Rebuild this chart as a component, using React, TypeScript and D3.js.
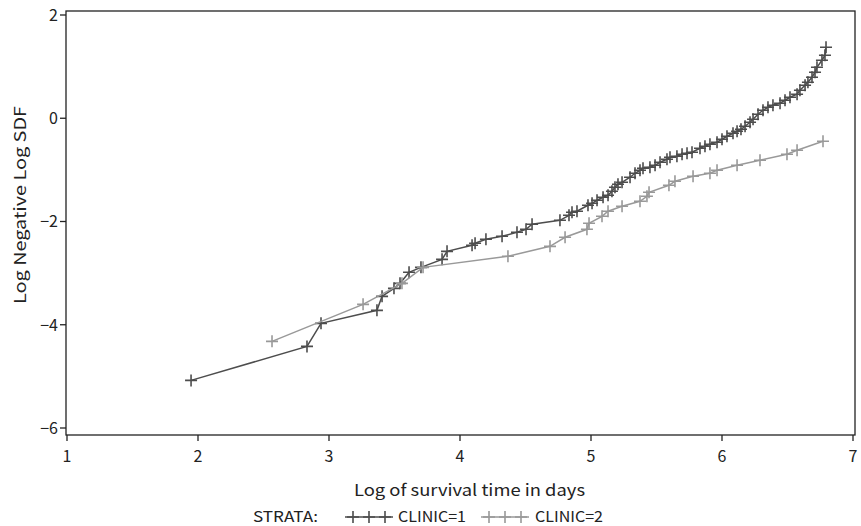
import React from 'react';
import * as d3 from 'd3';

const clinic1X = [1.947, 2.832, 2.939, 3.366, 3.405, 3.496, 3.542, 3.611, 3.702, 3.863, 3.901, 4.092, 4.115, 4.198, 4.321, 4.435, 4.504, 4.55, 4.763, 4.832, 4.855, 4.893, 4.977, 5.008, 5.046, 5.092, 5.13, 5.16, 5.183, 5.206, 5.237, 5.298, 5.336, 5.374, 5.397, 5.45, 5.489, 5.527, 5.58, 5.603, 5.656, 5.695, 5.733, 5.771, 5.832, 5.87, 5.908, 5.962, 6.0, 6.038, 6.084, 6.115, 6.145, 6.176, 6.214, 6.237, 6.275, 6.313, 6.351, 6.389, 6.443, 6.481, 6.519, 6.573, 6.595, 6.634, 6.656, 6.687, 6.71, 6.725, 6.763, 6.786, 6.794];
const clinic1Y = [-5.078, -4.419, -3.973, -3.721, -3.45, -3.295, -3.198, -2.984, -2.888, -2.733, -2.578, -2.461, -2.422, -2.345, -2.287, -2.209, -2.151, -2.054, -1.977, -1.88, -1.822, -1.802, -1.686, -1.647, -1.589, -1.531, -1.492, -1.415, -1.337, -1.279, -1.24, -1.143, -1.066, -1.008, -0.969, -0.95, -0.911, -0.853, -0.795, -0.756, -0.736, -0.698, -0.678, -0.659, -0.581, -0.543, -0.504, -0.465, -0.407, -0.349, -0.291, -0.252, -0.213, -0.155, -0.078, -0.019, 0.078, 0.155, 0.213, 0.252, 0.291, 0.349, 0.407, 0.465, 0.543, 0.64, 0.698, 0.795, 0.891, 0.988, 1.124, 1.221, 1.376];

const clinic2X = [2.565, 3.26, 3.557, 3.718, 4.366, 4.687, 4.802, 4.969, 4.985, 5.084, 5.13, 5.237, 5.374, 5.427, 5.443, 5.595, 5.641, 5.779, 5.908, 5.962, 6.115, 6.29, 6.496, 6.573, 6.771];
const clinic2Y = [-4.322, -3.605, -3.198, -2.888, -2.674, -2.481, -2.306, -2.151, -2.035, -1.899, -1.802, -1.705, -1.609, -1.512, -1.434, -1.298, -1.221, -1.124, -1.066, -1.008, -0.911, -0.814, -0.698, -0.62, -0.446];

const xTicks = [1, 2, 3, 4, 5, 6, 7];
const yTicks = [-6, -4, -2, 0, 2];
const strataLabels = ['CLINIC=1', 'CLINIC=2'];
const strataColors = ['#4d4d4d', '#999999'];

const FONT = "'Noto Sans CJK JP', 'Noto Sans', sans-serif";

function Plus({ x, y, color }: { x: number; y: number; color: string }) {
  const s = 6;
  return (
    <path d={`M${x - s},${y}H${x + s}M${x},${y - s}V${y + s}`} stroke={color} strokeWidth={1.6} fill="none" />
  );
}

export default function App() {
  const W = 861, H = 526;
  const x = d3.scaleLinear().domain([1, 7]).range([67, 853]);
  const y = d3.scaleLinear().domain([-6, 2]).range([428, 15]);
  const frame = { l: 66, r: 855, t: 11, b: 435 };

  const series = [
    { xs: clinic1X, ys: clinic1Y, color: strataColors[0] },
    { xs: clinic2X, ys: clinic2Y, color: strataColors[1] },
  ];
  const line = d3.line<[number, number]>().x(d => x(d[0])).y(d => y(d[1]));

  const legendY = 517;
  const legendItems = [
    { lx: 345, tx: 398, label: strataLabels[0], color: strataColors[0] },
    { lx: 481, tx: 535, label: strataLabels[1], color: strataColors[1] },
  ];

  return (
    <svg width={W} height={H} style={{ position: 'absolute', left: 0, top: 0, background: '#fff' }} fontFamily={FONT}>
      <rect x={0} y={0} width={W} height={H} fill="#fff" />
      <rect x={frame.l} y={frame.t} width={frame.r - frame.l} height={frame.b - frame.t} fill="none" stroke="#222" strokeWidth={1.3} />
      {yTicks.map(t => (
        <g key={'y' + t}>
          <line x1={frame.l} x2={frame.l - 6} y1={y(t)} y2={y(t)} stroke="#222" strokeWidth={1.3} />
          <text x={frame.l - 8} y={y(t)} dy="0.36em" textAnchor="end" fontSize={16} fill="#222">{t < 0 ? '\u2212' + Math.abs(t) : t}</text>
        </g>
      ))}
      {xTicks.map(t => (
        <g key={'x' + t}>
          <line x1={x(t)} x2={x(t)} y1={frame.b} y2={frame.b + 6} stroke="#222" strokeWidth={1.3} />
          <text x={x(t)} y={frame.b + 27} textAnchor="middle" fontSize={16} fill="#222">{t}</text>
        </g>
      ))}
      <text x={354} y={496} fontSize={16} fill="#222" textLength={231} lengthAdjust="spacingAndGlyphs">Log of survival time in days</text>
      <text transform={`translate(26,${205}) rotate(-90)`} textAnchor="middle" fontSize={16} fill="#222" textLength={198} lengthAdjust="spacingAndGlyphs">Log Negative Log SDF</text>

      {series.map((s, i) => {
        const pts: [number, number][] = s.xs.map((v, j) => [v, s.ys[j]]);
        return (
          <g key={'s' + i}>
            <path d={line(pts) || ''} fill="none" stroke={s.color} strokeWidth={1.5} />
            {pts.map((p, j) => <Plus key={j} x={x(p[0])} y={y(p[1])} color={s.color} />)}
          </g>
        );
      })}

      <text x={253} y={legendY} dy="0.36em" fontSize={15} fill="#222" textLength={65} lengthAdjust="spacingAndGlyphs">STRATA:</text>
      {legendItems.map((it, i) => (
        <g key={'l' + i}>
          <line x1={it.lx} x2={it.lx + 48} y1={legendY} y2={legendY} stroke={it.color} strokeWidth={1.5} />
          {[0, 1, 2].map(k => <Plus key={k} x={it.lx + 8 + k * 16} y={legendY} color={it.color} />)}
          <text x={it.tx} y={legendY} dy="0.36em" fontSize={15} fill="#222" textLength={68} lengthAdjust="spacingAndGlyphs">{it.label}</text>
        </g>
      ))}
    </svg>
  );
}
